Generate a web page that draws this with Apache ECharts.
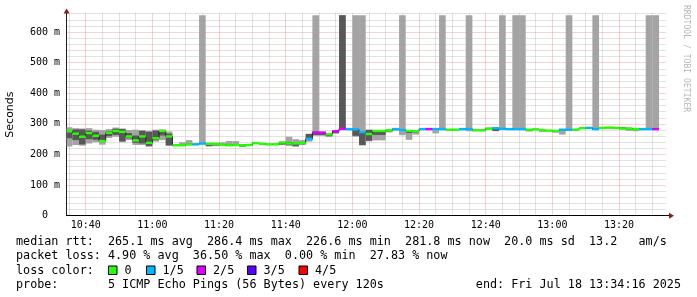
<!DOCTYPE html>
<html><head><meta charset="utf-8">
<script src="https://cdn.jsdelivr.net/npm/echarts@6/dist/echarts.min.js"></script>
<style>html,body{margin:0;padding:0;background:#fff}#c{width:697px;height:297px}</style>
</head><body><div id="c"></div>
<script>
// time axis in minutes after 10:00
const viewStart = 34 + 16 / 60;   // 10:34:16
const viewEnd = 214 + 16 / 60;    // 13:34:16
const firstStep = 34;             // first 2-minute step starts 10:34
const stepLen = 2;

const xTickValues = [40, 60, 80, 100, 120, 140, 160, 180, 200];
const xTickLabels = ['10:40', '11:00', '11:20', '11:40', '12:00', '12:20', '12:40', '13:00', '13:20'];
const yTickValues = [0, 100, 200, 300, 400, 500, 600];
const yTickLabels = ['0  ', '100 m', '200 m', '300 m', '400 m', '500 m', '600 m'];

// median rtt (ms) per step
const medianRtt = [277,268,258,270,261,244,271,277,274,259,
 246,259,238,253,277,259,230,230,233,233,
 236,235,235,232,230,231,230,231,237,235,
 233,233,239,236,236,238,251,272,271,266,
 276,284,283,282,273,267,277,277,279,283,
 280,277,276,283,283,283,283,281,281,283,
 283,279,279,284,286,284,283,283,283,281,
 282,279,278,277,281,281,281,286,287,283,
 287,288,287,285,285,283,283,283,283,null,null];
// lost pings (out of 5) per step
const lossCount = [0,0,0,0,0,0,0,0,0,0,
 0,0,0,0,0,0,0,0,0,1,
 1,0,0,0,0,0,0,0,0,0,
 0,0,0,0,0,0,1,2,2,0,
 2,2,1,1,1,0,0,0,0,1,
 1,0,0,1,2,1,1,0,0,1,
 1,0,0,0,1,1,1,1,1,0,
 0,0,0,0,1,1,0,0,1,1,
 0,0,0,0,0,0,1,1,2,null,null];
// smoke: sorted pings (min, 2nd, 4th, max)
const pingMin = [226,231,229,236,240,232,254,258,240,247,
 231,231,225,242,247,228,228,228,230,231,
 233,226,227,230,228,229,225,229,235,233,
 231,231,231,228,225,232,242,262,262,257,
 268,279,279,258,229,243,246,246,272,278,
 263,248,265,280,281,269,280,279,279,281,
 276,277,277,281,276,281,281,281,281,275,
 280,274,276,271,265,279,279,284,284,280,
 285,285,284,282,277,276,281,281,281,null,null];
const ping2 = [253,247,233,250,248,247,260,264,243,253,
 238,236,228,247,262,230,229,229,231,232,
 234,228,230,231,229,230,226,230,236,234,
 232,232,233,231,228,233,248,263,263,260,
 270,281,280,261,231,245,264,264,275,280,
 278,270,272,281,282,280,281,280,280,282,
 281,278,278,282,277,282,282,282,282,279,
 281,277,277,275,279,280,280,285,285,281,
 286,286,285,283,283,281,282,282,282,null,null];
const ping4 = [272,282,282,278,274,265,276,284,283,270,
 262,277,274,278,275,268,231,232,235,234,
 238,236,236,234,232,233,232,232,238,236,
 234,234,241,241,238,240,267,274,273,267,
 278,655,284,283,276,280,278,278,280,284,
 281,278,277,284,284,284,284,282,282,284,
 284,280,280,287,287,285,284,285,285,282,
 283,280,279,278,282,283,282,287,288,284,
 288,289,289,289,286,284,284,284,284,null,null];
const pingMax = [289,286,285,286,281,280,283,288,285,280,
 281,280,277,281,282,275,233,240,247,236,
 655,237,237,240,244,244,233,233,239,237,
 235,236,242,258,250,247,268,655,276,268,
 279,655,286,655,655,282,279,279,281,285,
 655,279,278,285,285,285,655,283,283,285,
 655,281,281,288,288,655,285,655,655,283,
 284,281,280,279,283,655,283,288,289,655,
 289,290,290,290,287,285,285,655,655,null,null];

const lossColors = ['#26ff00', '#00b8ff', '#dd00ff', '#5e00ff', '#ff0000'];
const lossLabels = ['0', '1/5', '2/5', '3/5', '4/5'];

const stepStart = medianRtt.map((_, i) => firstStep + i * stepLen);

const smokeData = [], medData = [], lineData = [];
stepStart.forEach((t, i) => {
  if (medianRtt[i] == null) return;
  smokeData.push([t, pingMin[i], ping2[i], ping4[i], pingMax[i]]);
  medData.push([t, medianRtt[i], lossCount[i]]);
  const prev = i > 0 && medianRtt[i - 1] != null ? medianRtt[i - 1] : NaN;
  lineData.push([t, medianRtt[i], prev]);
});

function xSpan(params, api, t) {
  const cs = params.coordSys;
  let x0 = api.coord([t, 0])[0], x1 = api.coord([t + stepLen, 0])[0];
  return [Math.max(x0, cs.x), Math.min(x1, cs.x + cs.width), x0];
}
function yClip(params, y) {
  const cs = params.coordSys;
  return Math.max(cs.y, Math.min(cs.y + cs.height, y));
}

const chart = echarts.init(document.getElementById('c'), null, {renderer: 'canvas'});
const mono = 'DejaVu Sans Mono';
const LF = '11.75px "DejaVu Sans Mono"';
const lineY = [241.5, 256, 270.5, 285];
const boxX = [108.5, 146.5, 197, 247.5, 299];

const graphics = [
  {type: 'polygon', shape: {points: [[669, 212.7], [669, 218.7], [674, 215.7]]}, style: {fill: '#801f1f'}},
  {type: 'polygon', shape: {points: [[63.6, 13.5], [69.6, 13.5], [66.6, 8.5]]}, style: {fill: '#801f1f'}},
  {type: 'line', shape: {x1: 666, y1: 215.5, x2: 669, y2: 215.5}, style: {stroke: '#000', lineWidth: 1}},
  {type: 'text', x: 686, y: 5, rotation: -Math.PI / 2,
    style: {text: 'RRDTOOL / TOBI OETIKER', font: '8.1px "DejaVu Sans Mono"', fill: 'rgba(0,0,0,0.3)', align: 'left', verticalAlign: 'middle'}},
  {type: 'text', x: 16, y: lineY[0], style: {text: 'median rtt:  265.1 ms avg  286.4 ms max  226.6 ms min  281.8 ms now  20.0 ms sd  13.2   am/s', font: LF, fill: '#000', verticalAlign: 'middle'}},
  {type: 'text', x: 16, y: lineY[1], style: {text: 'packet loss: 4.90 % avg  36.50 % max  0.00 % min  27.83 % now', font: LF, fill: '#000', verticalAlign: 'middle'}},
  {type: 'text', x: 16, y: lineY[2], style: {text: 'loss color:', font: LF, fill: '#000', verticalAlign: 'middle'}},
  {type: 'text', x: 16, y: lineY[3], style: {text: 'probe:       5 ICMP Echo Pings (56 Bytes) every 120s', font: LF, fill: '#000', verticalAlign: 'middle'}},
  {type: 'text', x: 681, y: lineY[3], style: {text: 'end: Fri Jul 18 13:34:16 2025', font: LF, fill: '#000', align: 'right', verticalAlign: 'middle'}}
];
lossLabels.forEach((lab, k) => {
  graphics.push({type: 'rect', shape: {x: boxX[k], y: lineY[2] - 4.5, width: 8.5, height: 8.5},
    style: {fill: lossColors[k], stroke: '#000', lineWidth: 1}});
  graphics.push({type: 'text', x: boxX[k] + 16, y: lineY[2], style: {text: lab, font: LF, fill: '#000', verticalAlign: 'middle'}});
});

const gridLineMajor = {color: 'rgba(222,79,79,0.5)', width: 1, type: [1, 1]};
const gridLineMinor = {color: 'rgba(143,143,143,0.5)', width: 1, type: [1, 1]};

chart.setOption({
  animation: false,
  backgroundColor: '#fff',
  grid: {left: 66.6, right: 30.4, top: 13.4, bottom: 81.3, containLabel: false, outerBoundsMode: 'none'},
  xAxis: {
    type: 'value', min: viewStart, max: viewEnd, splitNumber: 9,
    axisLine: {show: true, onZero: false, lineStyle: {color: '#000', width: 1}},
    axisTick: {show: false},
    axisLabel: {
      showMinLabel: false, showMaxLabel: false, margin: 4.5, color: '#000', fontFamily: mono, fontSize: 10,
      formatter: v => { const k = xTickValues.findIndex(t => Math.abs(t - v) < 1e-6); return k < 0 ? '' : xTickLabels[k]; }
    },
    splitLine: {show: true, showMinLine: false, showMaxLine: false, lineStyle: gridLineMajor},
    minorTick: {show: false, splitNumber: 4},
    minorSplitLine: {show: true, lineStyle: gridLineMinor}
  },
  yAxis: {
    type: 'value', min: 0, max: 661, interval: 100,
    name: 'Seconds', nameLocation: 'middle', nameGap: 51, nameRotate: 90,
    nameTextStyle: {fontFamily: 'DejaVu Sans', fontSize: 11, color: '#000'},
    axisLine: {show: true, lineStyle: {color: '#1f1f1f', width: 1}},
    axisTick: {show: false},
    axisLabel: {
      showMaxLabel: false, margin: 6.6, color: '#000', fontFamily: mono, fontSize: 10,
      formatter: v => { const k = yTickValues.indexOf(Math.round(v)); return k < 0 ? '' : yTickLabels[k]; }
    },
    splitLine: {show: true, showMinLine: false, showMaxLine: false, lineStyle: gridLineMajor},
    minorTick: {show: false, splitNumber: 5},
    minorSplitLine: {show: true, lineStyle: gridLineMinor}
  },
  graphic: graphics,
  series: [
    {
      type: 'custom', name: 'smoke', silent: true, data: smokeData,
      encode: {x: 0, y: [1, 2, 3, 4]},
      renderItem: (params, api) => {
        const t = api.value(0);
        const [x0, x1] = xSpan(params, api, t);
        const yLo = yClip(params, api.coord([t, api.value(1)])[1]);
        const yDlo = yClip(params, api.coord([t, api.value(2)])[1]);
        const yDhi = yClip(params, api.coord([t, api.value(3)])[1]);
        const yHi = yClip(params, api.coord([t, api.value(4)])[1]);
        return {type: 'group', children: [
          {type: 'rect', shape: {x: x0, y: yHi, width: x1 - x0, height: yLo - yHi}, style: {fill: '#a4a4a4'}},
          {type: 'rect', shape: {x: x0, y: yDhi, width: x1 - x0, height: yDlo - yDhi}, style: {fill: '#585858'}}
        ]};
      }
    },
    {
      type: 'custom', name: 'medianLine', silent: true, data: lineData,
      encode: {x: 0, y: 1},
      renderItem: (params, api) => {
        const t = api.value(0);
        const [x0, x1] = xSpan(params, api, t);
        const y = api.coord([t, api.value(1)])[1];
        const children = [{type: 'line', shape: {x1: x0, y1: y, x2: x1, y2: y}, style: {stroke: '#202020', lineWidth: 1}}];
        const p = api.value(2);
        if (!isNaN(p) && p != null) {
          const yp = api.coord([t, p])[1];
          children.push({type: 'line', shape: {x1: x0, y1: yp, x2: x0, y2: y}, style: {stroke: '#202020', lineWidth: 1}});
        }
        return {type: 'group', children};
      }
    },
    {
      type: 'custom', name: 'median', silent: true, data: medData,
      encode: {x: 0, y: 1},
      renderItem: (params, api) => {
        const t = api.value(0);
        const [x0, x1] = xSpan(params, api, t);
        const y = api.coord([t, api.value(1)])[1];
        return {type: 'rect', shape: {x: x0, y: y - 1.2, width: x1 - x0, height: 2.4},
          style: {fill: lossColors[api.value(2)]}};
      }
    }
  ]
});
</script></body></html>
